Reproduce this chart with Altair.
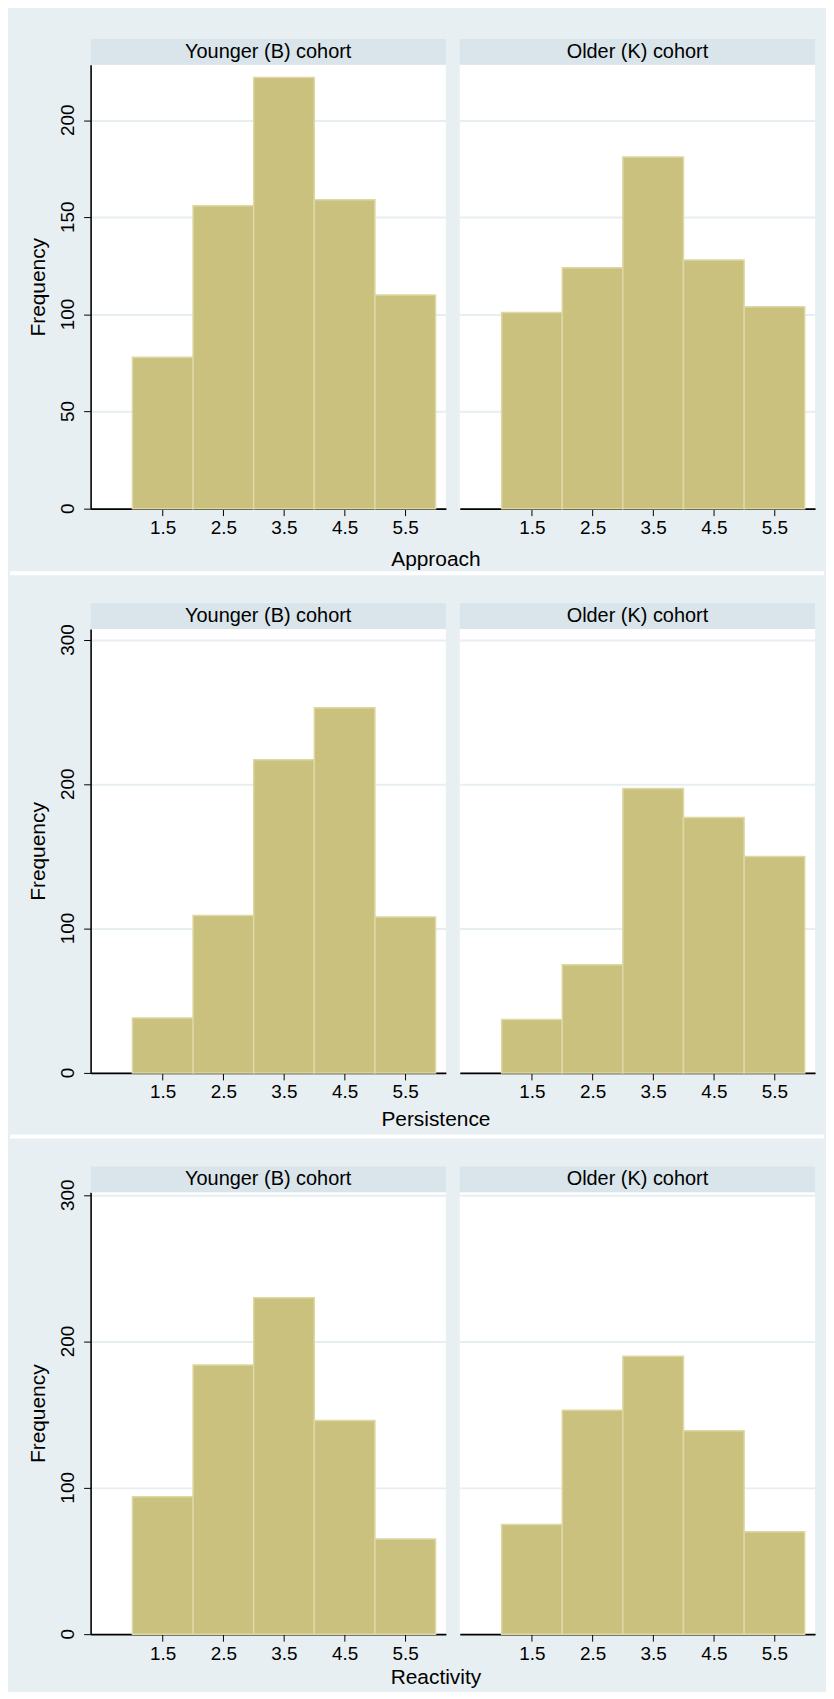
import altair as alt
import pandas as pd

# ---- data ----
cohorts = ["Younger (B) cohort", "Older (K) cohort"]
bin_starts = [1, 2, 3, 4, 5]
x_ticks = [1.5, 2.5, 3.5, 4.5, 5.5]

approach_younger = [78, 156, 222, 159, 110]
approach_older = [101, 124, 181, 128, 104]
persistence_younger = [38, 109, 217, 253, 108]
persistence_older = [37, 75, 197, 177, 150]
reactivity_younger = [94, 184, 230, 146, 65]
reactivity_older = [75, 153, 190, 139, 70]

approach_y_ticks = [0, 50, 100, 150, 200]
other_y_ticks = [0, 100, 200, 300]

# ---- styling ----
W = 357
GAP = 14
BG = "#e8eff2"
STRIP = "#d9e5ea"
BAR = "#cac17f"
BAR_EDGE = "#ddd8a4"
GRID = "#e6eef1"
FONT = "Liberation Sans"
FS = 19
FS_STRIP = 20
FS_TITLE = 21


def cohort_df(cohort, vals):
    return pd.DataFrame(
        {"cohort": cohort, "lo": bin_starts, "hi": [s + 1 for s in bin_starts], "count": vals}
    )


def cell(df, y_top, y_ticks, height, show_y, var_name=None, title_dy=None, sep_dy=None):
    base = alt.Chart()
    y_scale = alt.Scale(domain=[0, y_top], nice=False)
    x_axis = alt.Axis(
        values=x_ticks, title=None, grid=False, format=".1f",
        tickSize=7, tickColor="black", tickWidth=1,
        domainColor="black", domainWidth=1.6,
        labelFontSize=FS, labelColor="black", labelPadding=3, labelFont=FONT,
    )
    if show_y:
        y_axis = alt.Axis(
            values=y_ticks, title="Frequency", grid=True, gridColor=GRID, gridWidth=2,
            tickSize=7, tickColor="black", tickWidth=1,
            domainColor="black", domainWidth=1.6,
            labels=False, minExtent=0,
            titleFontSize=FS_TITLE, titleFontWeight="normal", titleColor="black",
            titlePadding=35, titleFont=FONT,
        )
    else:
        y_axis = alt.Axis(
            values=y_ticks, title=None, grid=True, gridColor=GRID, gridWidth=2,
            labels=False, ticks=False, domain=False,
        )

    bars = base.mark_bar(fill=BAR, stroke=BAR_EDGE, strokeWidth=1.5).encode(
        x=alt.X("lo:Q", scale=alt.Scale(domain=[0.31, 6.17], nice=False, zero=False), axis=x_axis),
        x2="hi:Q",
        y=alt.Y("count:Q", scale=y_scale, axis=y_axis),
        y2=alt.datum(0),
    )

    one = base.transform_filter(alt.datum.lo == 1)
    strip_rect = one.mark_rect(color=STRIP).encode(
        x=alt.value(0), x2=alt.value(W), y=alt.value(-26), y2=alt.value(0)
    )
    strip_text = one.mark_text(
        fontSize=FS_STRIP, color="black", align="center", baseline="middle", font=FONT
    ).encode(x=alt.value(W / 2), y=alt.value(-13), text="cohort:N")

    layers = [bars, strip_rect, strip_text]
    if show_y:
        # vertical (rotated) tick labels of the y axis, placed through the y scale
        layers.append(
            alt.Chart(pd.DataFrame({"tick": y_ticks})).mark_text(
                angle=270, align="center", baseline="bottom",
                fontSize=FS, color="black", font=FONT,
            ).encode(
                y=alt.Y("tick:Q", scale=y_scale, axis=y_axis),
                x=alt.value(-13),
                text=alt.Text("tick:Q", format="d"),
            )
        )
    if var_name is not None:
        layers.append(
            one.mark_text(
                fontSize=FS_TITLE, color="black", align="center", baseline="middle", font=FONT
            ).encode(x=alt.value(347), y=alt.value(height + title_dy), text=alt.value(var_name))
        )
    if sep_dy is not None:
        layers.append(
            one.mark_rule(color="white", strokeWidth=4).encode(
                x=alt.value(-81), x2=alt.value(737), y=alt.value(height + sep_dy)
            )
        )
    return alt.layer(*layers, data=df).properties(width=W, height=height)


def panel(var_name, younger, older, y_top, y_ticks, height, title_dy, sep_dy=None):
    left = cell(cohort_df(cohorts[0], younger), y_top, y_ticks, height, True,
                var_name, title_dy, sep_dy)
    right = cell(cohort_df(cohorts[1], older), y_top, y_ticks, height, False)
    return alt.hconcat(left, right, spacing=GAP, bounds="flush")


p1 = panel("Approach", approach_younger, approach_older, 228.5, approach_y_ticks, 446, 52, 65)
p2 = panel("Persistence", persistence_younger, persistence_older, 307.5, other_y_ticks, 446, 47, 64)
p3 = panel("Reactivity", reactivity_younger, reactivity_older, 302, other_y_ticks, 444, 44)

chart = alt.vconcat(p1, p2, p3, spacing=28).properties(
    background=BG,
    padding={"left": 0, "top": 27, "right": 0, "bottom": 0},
).configure(font=FONT).configure_view(fill="white", strokeWidth=0)

chart.save("out.html", embed_options={"renderer": "svg", "actions": False})
